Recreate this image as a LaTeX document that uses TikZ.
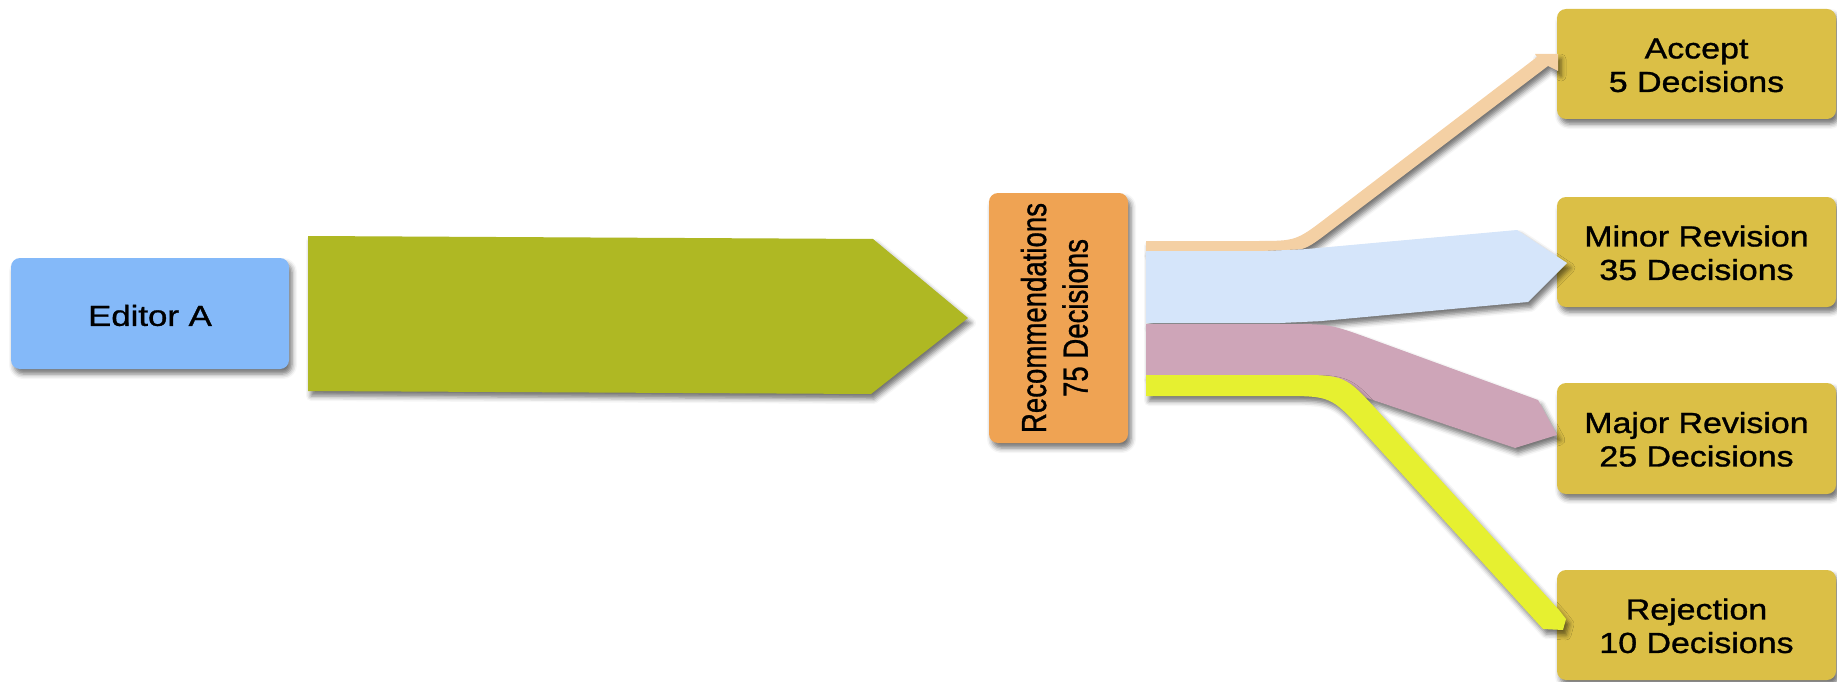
\documentclass[tikz,border=0pt]{standalone}
\usepackage{fontspec}
\setmainfont{Liberation Sans}
\newfontfamily\heavysans{Liberation Sans}[FakeBold=1]
\usetikzlibrary{calc,shadows.blur}
\definecolor{editorblue}{HTML}{84B9F9}
\definecolor{flowgreen}{HTML}{AFB823}
\definecolor{recorange}{HTML}{EFA353}
\definecolor{peach}{HTML}{F4D0A4}
\definecolor{lightblue}{HTML}{D5E5FA}
\definecolor{pinkband}{HTML}{CEA5B8}
\definecolor{yellowband}{HTML}{E6F030}
\definecolor{gold}{HTML}{DBBF46}
\newcommand\twolines[2]{\raisebox{-4.5pt}[\height][\depth]{\scalebox{1.17}[1]{\begin{tabular}{@{}c@{}}#1\\#2\end{tabular}}}}
\tikzset{
  softshadow/.style={blur shadow={shadow xshift=3pt, shadow yshift=-5pt, shadow blur radius=5pt, shadow opacity=55}},
  box/.style={rounded corners=9pt, inner sep=0pt, softshadow},
  lbl/.style={font=\heavysans\fontsize{29}{33.5}\selectfont, text=black},
  band/.style={softshadow},
}
\begin{document}
\begin{tikzpicture}[x=1pt,y=-1pt]
\useasboundingbox (0,0) rectangle (1837,682);
% boxes
\node[box, fill=editorblue, minimum width=278pt, minimum height=111pt, lbl] (editor) at (150,313.5) {\raisebox{-2pt}[\height][\depth]{\scalebox{1.2}[1]{Editor A}}};
\node[box, fill=recorange, minimum width=139pt, minimum height=250pt, font=\heavysans\fontsize{27.6}{33}\selectfont] (rec) at (1058.5,318)
  {\rotatebox{90}{\scalebox{1}[1.26]{\begin{tabular}{@{}c@{}}Recommendations\\75 Decisions\end{tabular}}}};
\node[box, fill=gold, minimum width=279pt, minimum height=110pt, lbl] (accept) at (1696.5,64) {\twolines{Accept}{5 Decisions}};
\node[box, fill=gold, minimum width=279pt, minimum height=110pt, lbl] (minor) at (1696.5,252) {\twolines{Minor Revision}{35 Decisions}};
\node[box, fill=gold, minimum width=279pt, minimum height=111pt, lbl] (major) at (1696.5,438.5) {\twolines{Major Revision}{25 Decisions}};
\node[box, fill=gold, minimum width=279pt, minimum height=110pt, lbl] (reject) at (1696.5,625) {\twolines{Rejection}{10 Decisions}};
% main flow editor -> recommendations
\coordinate (g1) at (308,236);
\coordinate (g2) at (873,239);
\coordinate (g3) at (968,318);
\coordinate (g4) at (871,394);
\coordinate (g5) at (308,391);
\fill[flowgreen, band] (g1) -- (g2) -- (g3) -- (g4) -- (g5) -- cycle;
% peach band -> accept
\coordinate (pA) at (1146,241);
\coordinate (pK1) at (1296,241);
\coordinate (pT) at (1537,57);
\coordinate (pB) at (1548,66);
\coordinate (pK2) at (1304,251);
\coordinate (pZ) at (1146,251);
\fill[peach, band] (pA) -- ($(pK1)!40pt!(pA)$) .. controls (pK1) .. ($(pK1)!40pt!(pT)$) -- (pT)
  -- (1535,54) -- (1558,54) -- (1558,71) -- (pB)
  -- ($(pK2)!32pt!(pB)$) .. controls (pK2) .. ($(pK2)!32pt!(pZ)$) -- (pZ) -- cycle;
% light blue band -> minor
\coordinate (bA) at (1146,251);
\coordinate (bK1) at (1285,251);
\coordinate (bT) at (1517,230);
\coordinate (bTip) at (1567,263);
\coordinate (bB) at (1528,302);
\coordinate (bK2) at (1300,323);
\coordinate (bZ) at (1146,323);
\fill[lightblue, band] (bA) -- ($(bK1)!20pt!(bA)$) .. controls (bK1) .. ($(bK1)!20pt!(bT)$) -- (bT)
  -- (bTip) -- (bB)
  -- ($(bK2)!20pt!(bB)$) .. controls (bK2) .. ($(bK2)!20pt!(bZ)$) -- (bZ) -- cycle;
% pink band -> major
\coordinate (mA) at (1146,324);
\coordinate (mK1) at (1330,324);
\coordinate (mT) at (1538,400);
\coordinate (mTip) at (1557,435);
\coordinate (mB) at (1515,448);
\coordinate (mK2) at (1299,375);
\coordinate (mZ) at (1146,375);
\fill[pinkband, band] (mA) -- ($(mK1)!45pt!(mA)$) .. controls (mK1) .. ($(mK1)!45pt!(mT)$) -- (mT)
  -- (mTip) -- (mB)
  -- ($(mK2)!35pt!(mB)$) .. controls (mK2) .. ($(mK2)!35pt!(mZ)$) -- (mZ) -- cycle;
% yellow band -> rejection
\coordinate (yA) at (1146,375);
\coordinate (yK1) at (1345,375);
\coordinate (yT) at (1559,610);
\coordinate (yB) at (1543,629);
\coordinate (yK2) at (1331,396);
\coordinate (yZ) at (1146,396);
\fill[yellowband, band] (yA) -- ($(yK1)!50pt!(yA)$) .. controls (yK1) .. ($(yK1)!50pt!(yT)$) -- (yT)
  -- (1566,619) -- (1563,630) -- (yB)
  -- ($(yK2)!50pt!(yB)$) .. controls (yK2) .. ($(yK2)!50pt!(yZ)$) -- (yZ) -- cycle;
\end{tikzpicture}
\end{document}
